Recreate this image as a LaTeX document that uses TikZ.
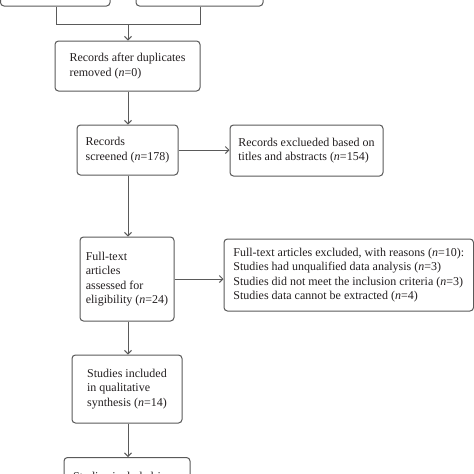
\documentclass[tikz,border=0pt]{standalone}
\usepackage{fontspec}
\setmainfont{Liberation Serif}
\usetikzlibrary{arrows.meta}
\definecolor{linegray}{HTML}{5A5A5A}
\definecolor{textdark}{HTML}{231F20}
\begin{document}
\begin{tikzpicture}[x=1pt,y=1pt,
  box/.style={draw=linegray, line width=1pt, rounded corners=3.5pt, align=left,
    inner sep=0pt, text=textdark, font=\fontsize{12}{14.5}\selectfont},
  conn/.style={draw=linegray, line width=1pt},
  arr/.style={conn, -{Straight Barb[length=3.5pt,width=7pt]}}]
\useasboundingbox (0,0) rectangle (474,-474);
\fill[white] (0,0) rectangle (474,-474);

% top boxes (text above the visible area)
\node[box, minimum width=109.5pt, minimum height=40pt] (tl) at (55.25,14) {};
\node[box, minimum width=127pt, minimum height=40pt] (tr) at (199.5,14) {};

\node[box, minimum width=145pt, minimum height=50pt] (dup) at (127.5,-66)
  {Records after duplicates\\removed (\textit{n}=0)};
\node[box, minimum width=101pt, minimum height=50pt] (scr) at (127.5,-150)
  {Records\\screened (\textit{n}=178)};
\node[box, minimum width=153pt, minimum height=51pt] (ex1) at (306.5,-150.5)
  {Records exclueded based on\\titles and abstracts (\textit{n}=154)};
\node[box, minimum width=94pt, minimum height=84pt] (ft) at (127,-279)
  {Full-text\\articles\\assessed for\\eligibility (\textit{n}=24)};
\node[box, minimum width=249.5pt, minimum height=72pt] (ex2) at (348.75,-275)
  {Full-text articles excluded, with reasons (\textit{n}=10):\\
   Studies had unqualified data analysis (\textit{n}=3)\\
   Studies did not meet the inclusion criteria (\textit{n}=3)\\
   Studies data cannot be extracted (\textit{n}=4)};
\node[box, minimum width=110pt, minimum height=68pt] (stq) at (127,-389)
  {Studies included\\in qualitative\\synthesis (\textit{n}=14)};
\node[box, anchor=north, text width=108pt, inner xsep=9pt, inner ysep=15pt]
  (fin) at (127,-457) {Studies included in};

% connectors
\coordinate (j) at (128,-24);
\draw[conn] (tl.south -| 56,0) |- (j);
\draw[conn] (tr.south -| 200,0) |- (j);
\draw[arr] (j) -- (dup.north -| j);
\draw[arr] (dup.south -| j) -- (scr.north -| j);
\draw[arr] (scr.east) -- (ex1.west |- scr.east);
\draw[arr] (scr.south -| j) -- (ft.north -| j);
\draw[arr] (ft.east) -- (ex2.west |- ft.east);
\draw[arr] (ft.south -| j) -- (stq.north -| j);
\draw[arr] (stq.south -| j) -- (fin.north -| j);
\end{tikzpicture}
\end{document}
